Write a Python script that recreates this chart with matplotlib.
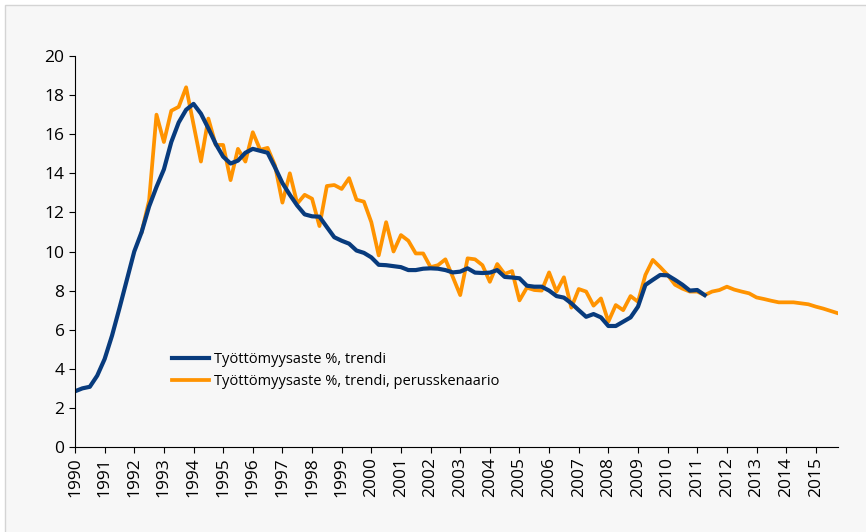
import numpy as np
import matplotlib.pyplot as plt
from matplotlib.patches import Rectangle

# quarterly data, unemployment rate trend (%)
trend_start = 1990.0
trend = [2.85, 3.0, 3.08, 3.65, 4.5, 5.7, 7.1, 8.55, 10.0, 11.0,
         12.3, 13.3, 14.2, 15.6, 16.6, 17.25, 17.55, 17.05, 16.3, 15.5,
         14.85, 14.5, 14.65, 15.05, 15.25, 15.15, 15.05, 14.3, 13.5, 12.9,
         12.35, 11.9, 11.8, 11.78, 11.25, 10.73, 10.55, 10.4, 10.05, 9.93,
         9.7, 9.32, 9.3, 9.25, 9.2, 9.05, 9.05, 9.12, 9.14, 9.12,
         9.05, 8.93, 8.97, 9.14, 8.92, 8.9, 8.92, 9.05, 8.7, 8.67,
         8.63, 8.25, 8.2, 8.2, 8.0, 7.72, 7.64, 7.35, 7.0, 6.66,
         6.8, 6.63, 6.19, 6.19, 6.41, 6.63, 7.18, 8.29, 8.55, 8.8,
         8.78, 8.55, 8.3, 8.0, 8.03, 7.77]

base_start = 1992.25
base = [11.0, 12.6, 17.0, 15.6, 17.2, 17.4, 18.4, 16.5, 14.6, 16.8,
        15.45, 15.45, 13.65, 15.25, 14.6, 16.1, 15.2, 15.3, 14.4, 12.5,
        14.0, 12.45, 12.9, 12.7, 11.3, 13.35, 13.4, 13.2, 13.75, 12.65,
        12.55, 11.5, 9.8, 11.5, 10.0, 10.84, 10.55, 9.9, 9.9, 9.2,
        9.3, 9.6, 8.7, 7.77, 9.65, 9.6, 9.3, 8.45, 9.36, 8.85,
        9.0, 7.5, 8.15, 8.03, 8.0, 8.93, 7.95, 8.68, 7.13, 8.08,
        7.95, 7.23, 7.6, 6.41, 7.26, 7.0, 7.72, 7.43, 8.8, 9.57,
        9.2, 8.8, 8.3, 8.1, 7.95, 7.95, 7.77, 7.95, 8.03, 8.2,
        8.05, 7.95, 7.86, 7.65, 7.57, 7.48, 7.4, 7.4, 7.4, 7.35,
        7.3, 7.18, 7.08, 6.96, 6.84]

years = list(range(1990, 2016))
lab_trend = 'Työttömyysaste %, trendi'
lab_base = 'Työttömyysaste %, trendi, perusskenaario'

x_trend = trend_start + 0.25 * np.arange(len(trend))
x_base = base_start + 0.25 * np.arange(len(base))

plt.rcParams['font.family'] = ['Open Sans', 'DejaVu Sans']

fig = plt.figure(figsize=(8.66, 5.32), dpi=100)
fig.patch.set_facecolor('white')
fig.patches.append(Rectangle((5 / 866, -0.02), 1.0, 1 - 5 / 532 + 0.02,
                             transform=fig.transFigure, facecolor='#f7f7f7',
                             edgecolor='#d4d4d4', linewidth=1.0, zorder=-10))

ax = fig.add_axes([75 / 866, 1 - 447 / 532, (838 - 75) / 866, (447 - 56) / 532])
ax.set_facecolor('none')

l2, = ax.plot(x_base, base, color='#ff9300', lw=2.7, label=lab_base)
l1, = ax.plot(x_trend, trend, color='#083b7d', lw=3.0, label=lab_trend)

ax.set_xlim(1990, 2015.75)
ax.set_ylim(0, 20)
ax.set_yticks(range(0, 21, 2))
ax.set_xticks(years)
ax.set_xticklabels([str(y) for y in years], rotation=90)
ax.tick_params(axis='both', labelsize=12.5, direction='out', length=4, color='black')
ax.spines['top'].set_visible(False)
ax.spines['right'].set_visible(False)

ax.legend(handles=[l1, l2], loc='upper left', bbox_to_anchor=(159 / 866, 1 - 339 / 532),
          bbox_transform=fig.transFigure, frameon=False, fontsize=10.5,
          handlelength=2.5, handletextpad=0.4, labelspacing=0.5)

fig.savefig('out.png', dpi=100)
